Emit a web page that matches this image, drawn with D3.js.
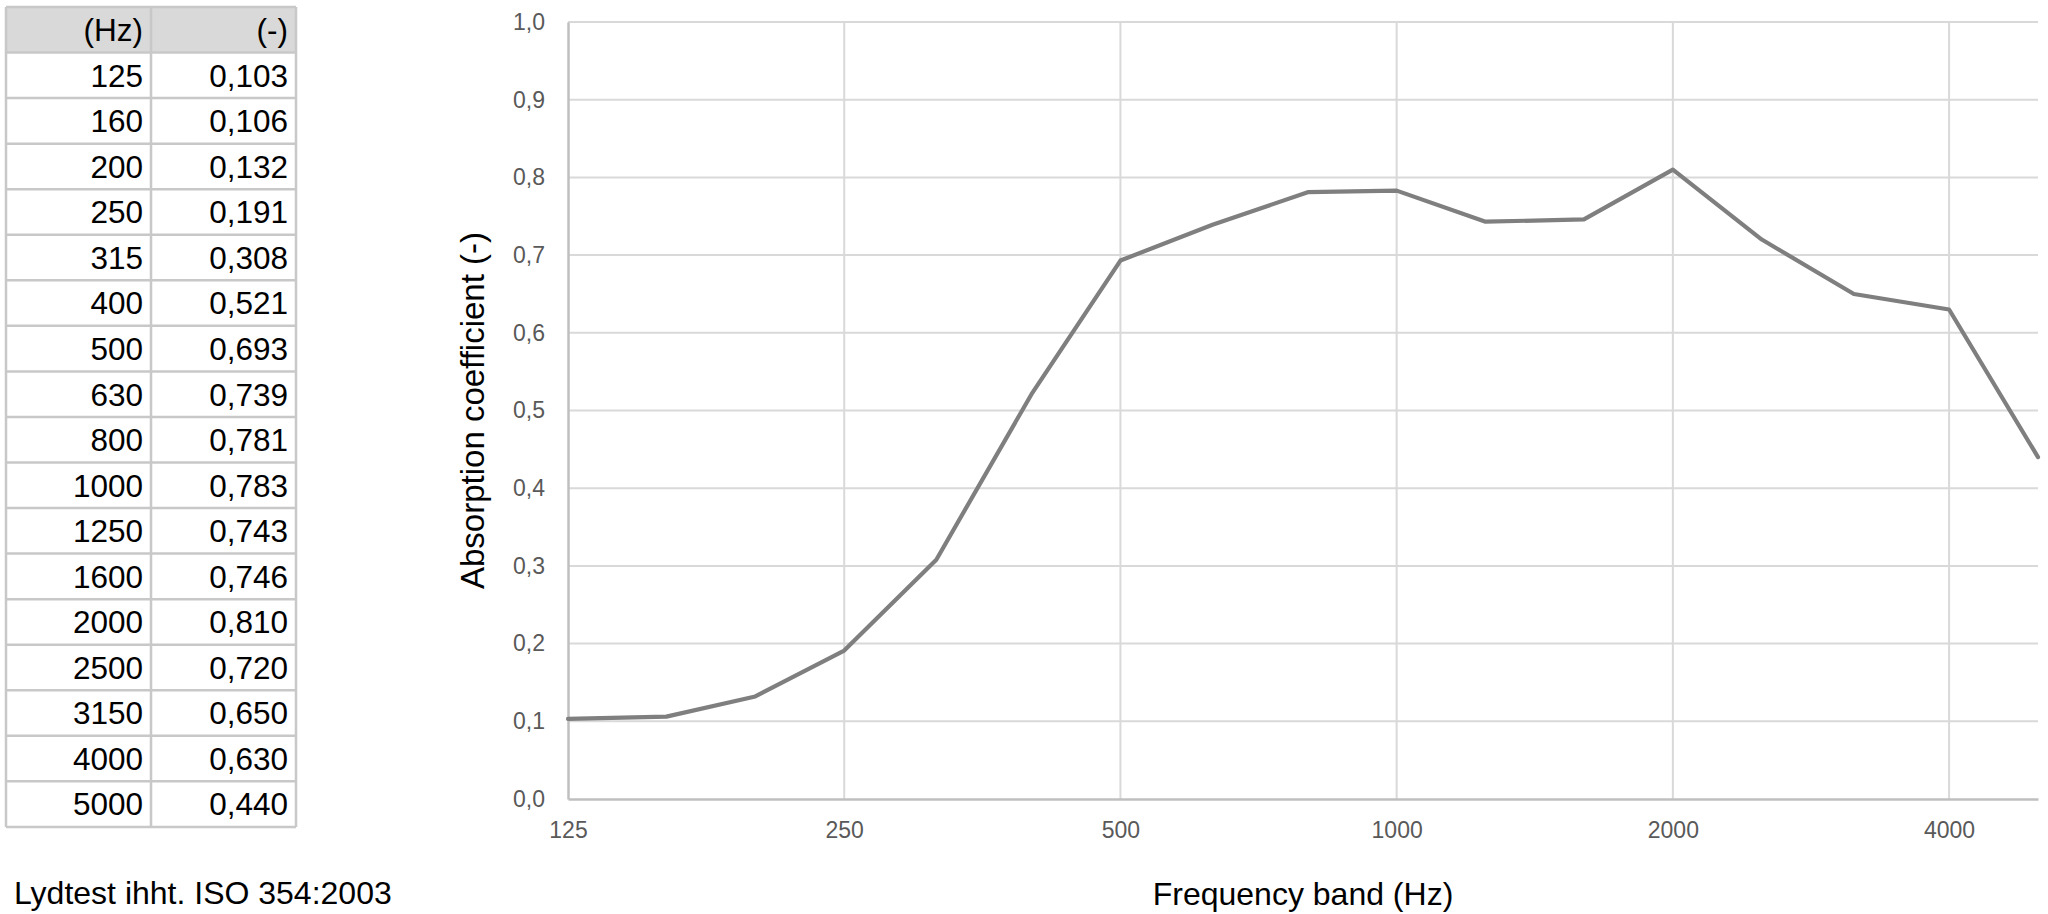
<!DOCTYPE html>
<html>
<head>
<meta charset="utf-8">
<script src="https://cdn.jsdelivr.net/npm/d3@7"></script>
<style>
html,body{margin:0;padding:0;background:#fff;}
svg{display:block;}
</style>
</head>
<body>
<svg id="chart" width="2048" height="914"></svg>
<script>
// ---- data ----
const frequencies = [125,160,200,250,315,400,500,630,800,1000,1250,1600,2000,2500,3150,4000,5000];
const absorption = [0.103,0.106,0.132,0.191,0.308,0.521,0.693,0.739,0.781,0.783,0.743,0.746,0.810,0.720,0.650,0.630,0.440];
const xTickValues = [125,250,500,1000,2000,4000];
const yTickValues = [0,0.1,0.2,0.3,0.4,0.5,0.6,0.7,0.8,0.9,1.0];
const tableHeader = ["(Hz)","(-)"];
const xTitle = "Frequency band (Hz)";
const yTitle = "Absorption coefficient (-)";
const footnote = "Lydtest ihht. ISO 354:2003";

// ---- setup ----
const locale = d3.formatLocale({decimal:",", thousands:".", grouping:[3], currency:["",""]});
const fmt1 = locale.format(".1f");
const fmt3 = locale.format(".3f");
const svg = d3.select("#chart");
const FONT = "'Liberation Sans', Arial, sans-serif";

const plot = {left:568, right:2038, top:22, bottom:799};
const x = d3.scaleLog().base(2).domain([125,5000]).range([plot.left, plot.right]);
const y = d3.scaleLinear().domain([0,1]).range([plot.bottom, plot.top]);

// gridlines
const g = svg.append("g");
g.selectAll("line.hgrid").data(yTickValues.filter(v=>v>0)).enter().append("line")
  .attr("x1", plot.left).attr("x2", plot.right)
  .attr("y1", d=>y(d)).attr("y2", d=>y(d))
  .attr("stroke", "#d9d9d9").attr("stroke-width", 2);
g.selectAll("line.vgrid").data(xTickValues.filter(v=>v>125)).enter().append("line")
  .attr("x1", d=>x(d)).attr("x2", d=>x(d))
  .attr("y1", plot.top).attr("y2", plot.bottom)
  .attr("stroke", "#d9d9d9").attr("stroke-width", 2);

// axes
const yAxis = d3.axisLeft(y).tickValues(yTickValues).tickFormat(fmt1).tickSize(0).tickPadding(23);
const yg = svg.append("g").attr("transform", `translate(${plot.left},0)`).call(yAxis);
yg.select(".domain").attr("stroke", "#bfbfbf").attr("stroke-width", 2.5);
yg.selectAll("text").attr("font-family", FONT).attr("font-size", 23).attr("fill", "#595959");

const xAxis = d3.axisBottom(x).tickValues(xTickValues).tickFormat(d=>String(d)).tickSize(0).tickPadding(23);
const xg = svg.append("g").attr("transform", `translate(0,${plot.bottom})`).call(xAxis);
xg.select(".domain").attr("stroke", "#bfbfbf").attr("stroke-width", 2.5);
xg.selectAll("text").attr("font-family", FONT).attr("font-size", 23).attr("fill", "#595959");

// line
const line = d3.line().x((d,i)=>x(frequencies[i])).y(d=>y(d));
svg.append("path").datum(absorption)
  .attr("d", line).attr("fill", "none")
  .attr("stroke", "#7f7f7f").attr("stroke-width", 4.2)
  .attr("stroke-linejoin", "round").attr("stroke-linecap", "round");

// axis titles
svg.append("text").attr("x", (plot.left+plot.right)/2).attr("y", 905)
  .attr("text-anchor", "middle").attr("font-family", FONT).attr("font-size", 32).attr("fill", "#000")
  .text(xTitle);
svg.append("text").attr("transform", `translate(484,${(plot.top+plot.bottom)/2}) rotate(-90)`)
  .attr("text-anchor", "middle").attr("font-family", FONT).attr("font-size", 33).attr("fill", "#000")
  .text(yTitle);

// footnote
svg.append("text").attr("x", 14).attr("y", 904)
  .attr("font-family", FONT).attr("font-size", 32).attr("fill", "#000").text(footnote);

// ---- table ----
const tbl = {left:6, mid:151, right:296, top:7, rowH:45.55};
const rows = [tableHeader].concat(frequencies.map((f,i)=>[String(f), fmt3(absorption[i])]));
const tg = svg.append("g");
tg.append("rect").attr("x", tbl.left).attr("y", tbl.top)
  .attr("width", tbl.right-tbl.left).attr("height", tbl.rowH).attr("fill", "#d9d9d9");
rows.forEach((r,i)=>{
  const cy = tbl.top + tbl.rowH*(i+0.5);
  tg.append("text").attr("x", tbl.mid-8).attr("y", cy).attr("dy", "0.36em")
    .attr("text-anchor", "end").attr("font-family", FONT).attr("font-size", 31.5).attr("fill", "#000").text(r[0]);
  tg.append("text").attr("x", tbl.right-8).attr("y", cy).attr("dy", "0.36em")
    .attr("text-anchor", "end").attr("font-family", FONT).attr("font-size", 31.5).attr("fill", "#000").text(r[1]);
});
const rowLines = d3.range(rows.length+1);
tg.selectAll("line.row").data(rowLines).enter().append("line")
  .attr("x1", tbl.left).attr("x2", tbl.right)
  .attr("y1", d=>tbl.top+d*tbl.rowH).attr("y2", d=>tbl.top+d*tbl.rowH)
  .attr("stroke", "#c8c8c8").attr("stroke-width", 2.5);
tg.selectAll("line.col").data([tbl.left, tbl.mid, tbl.right]).enter().append("line")
  .attr("x1", d=>d).attr("x2", d=>d)
  .attr("y1", tbl.top).attr("y2", tbl.top+rows.length*tbl.rowH)
  .attr("stroke", "#c8c8c8").attr("stroke-width", 2.5);
</script>
</body>
</html>
